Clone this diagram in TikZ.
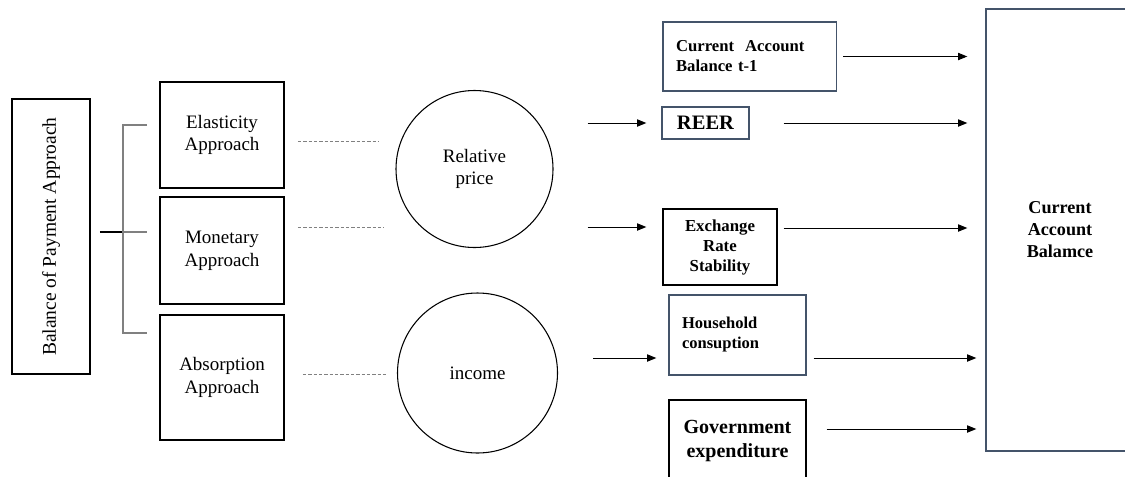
\documentclass[tikz,border=0pt]{standalone}
\usepackage{fontspec}
\setmainfont{Liberation Serif}
\usepackage{graphicx}
\usetikzlibrary{arrows.meta,calc}
\definecolor{slate}{RGB}{68,84,106}
\definecolor{lgrey}{RGB}{128,128,128}
\tikzset{
  kbox/.style={draw=black, line width=1.3pt, inner sep=0pt, align=center,
    font=\fontsize{14.25}{17}\selectfont},
  sbox/.style={draw=slate, line width=1pt, inner sep=0pt},
  bbox/.style={draw=black, line width=1pt, inner sep=0pt},
  circ/.style={draw=black, circle, line width=0.8pt, inner sep=0pt, align=center,
    font=\fontsize{14.25}{17}\selectfont},
  arr/.style={-{Triangle[length=7pt,width=5.5pt]}, line width=0.75pt, black},
  dline/.style={lgrey, line width=0.6pt, dash pattern=on 2.5pt off 1.5pt},
  brk/.style={lgrey, line width=0.8pt},
  stem/.style={black, line width=0.9pt},
}
\begin{document}
\begin{tikzpicture}[x=0.75pt, y=-0.75pt]
\clip (0,0) rectangle (1125,476);
\fill[white] (0,0) rectangle (1125,476);

% left column
\node[kbox, minimum width=58.5pt, minimum height=206.25pt] (bop) at (51,236.5)
  {\rotatebox{90}{\fontsize{14.6}{17}\selectfont Balance of Payment Approach}};
\node[kbox, minimum width=93pt, minimum height=79.5pt] (ela) at (222,135) {Elasticity\\Approach};
\node[kbox, minimum width=93pt, minimum height=80.25pt] (mon) at (222,250.5) {Monetary\\Approach};
\node[kbox, minimum width=93pt, minimum height=93.75pt] (abs) at (222,377.5) {Absorption\\Approach};

% bracket
\coordinate (bj) at (123,232);
\coordinate (bt) at (147,125);
\coordinate (bm) at (147,232);
\coordinate (bb) at (147,333);
\draw[stem] ($(bop.east)+(9,-4.5)$) -- (bj);
\draw[brk] (bt) -- (bt -| bj) -- (bb -| bj) -- (bb);
\draw[brk] (bj) -- (bm);

% circles
\node[circ, minimum size=117.75pt] (rel) at (474.5,169) {Relative\\price};
\node[circ, minimum size=120pt] (inc) at (477.5,373) {income};

% dashed links
\draw[dline, shorten <=9.75pt, shorten >=12.75pt] ($(ela.east)+(0,6)$) -- ($(rel.west|-ela.east)+(0,6)$);
\draw[dline, shorten <=9.75pt, shorten >=8.25pt] ($(mon.east)+(0,-23.5)$) -- ($(rel.west|-mon.east)+(0,-23.5)$);
\draw[dline, shorten <=13.5pt, shorten >=8.25pt] ($(abs.east)+(0,-3.5)$) -- ($(inc.west|-abs.east)+(0,-3.5)$);

% right column boxes
\node[sbox, minimum width=130pt, minimum height=51.75pt, text width=110.5pt, align=left,
  font=\bfseries\fontsize{12.5}{15}\selectfont] (cat) at (749.75,56.5) {Current\ \ Account\\Balance t-1};
\node[sbox, minimum width=65.25pt, minimum height=24pt,
  font=\bfseries\fontsize{15.4}{18}\selectfont] (reer) at (705.5,123) {REER};
\node[bbox, minimum width=85.5pt, minimum height=57pt, align=center,
  font=\bfseries\fontsize{12.6}{15}\selectfont] (exr) at (720,247) {Exchange\\Rate\\Stability};
\node[sbox, minimum width=102.75pt, minimum height=60pt, text width=83.25pt, align=left,
  font=\bfseries\fontsize{12.4}{15}\selectfont] (hh) at (737.5,335) {Household\\consuption};
\node[bbox, minimum width=102.75pt, minimum height=61.5pt, align=center,
  font=\bfseries\fontsize{15}{18}\selectfont] (gov) at (737.5,441) {Government\\expenditure};
\node[sbox, minimum width=111pt, minimum height=331.5pt, align=center,
  font=\bfseries\fontsize{13.6}{16.5}\selectfont] (cab) at (1060,230) {Current\\Account\\Balamce};

% incoming arrows
\draw[arr, shorten <=25.5pt, shorten >=11.25pt] (rel.east|-reer.west) -- (reer.west);
\draw[arr, shorten <=25.5pt, shorten >=12pt] ($(rel.east|-exr.west)+(0,-20)$) -- ($(exr.west)+(0,-20)$);
\draw[arr, shorten <=26.5pt, shorten >=9pt] ($(inc.east|-hh.west)+(0,23)$) -- ($(hh.west)+(0,23)$);

% outgoing arrows
\draw[arr, shorten <=4.5pt, shorten >=13.5pt] (cat.east) -- (cat.east -| cab.west);
\draw[arr, shorten <=25.5pt, shorten >=13.5pt] (reer.east) -- (reer.east -| cab.west);
\draw[arr, shorten <=4.5pt, shorten >=13.5pt] ($(exr.east)+(0,-19)$) -- ($(cab.west|-exr.east)+(0,-19)$);
\draw[arr, shorten <=5.25pt, shorten >=6.75pt] ($(hh.east)+(0,23)$) -- ($(cab.west|-hh.east)+(0,23)$);
\draw[arr, shorten <=15pt, shorten >=6.75pt] ($(gov.east)+(0,-12)$) -- ($(cab.west|-gov.east)+(0,-12)$);
\end{tikzpicture}
\end{document}
